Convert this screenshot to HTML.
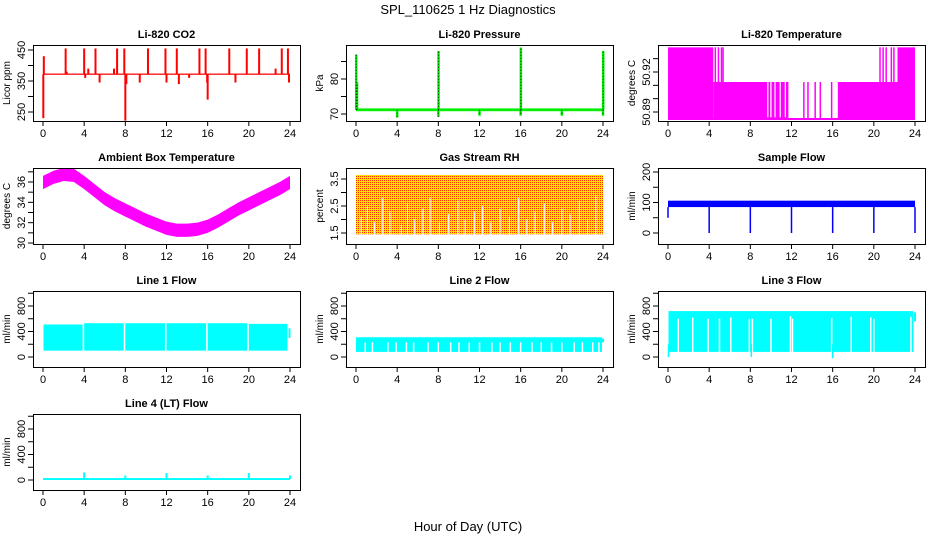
<!DOCTYPE html>
<html><head><meta charset="utf-8">
<style>
html,body{margin:0;padding:0;background:#fff;}
svg{display:block;font-family:"Liberation Sans",Arial,sans-serif;}
</style></head>
<body>
<svg id="chart" width="936" height="540" viewBox="0 0 936 540" xmlns="http://www.w3.org/2000/svg">
<defs>
<pattern id="rhpat" width="2" height="2" patternUnits="userSpaceOnUse">
<rect width="2" height="2" fill="#ffe000"/><rect width="1" height="1" fill="#ff3000"/>
</pattern>
</defs>
<text x="468" y="14" text-anchor="middle" font-size="13">SPL_110625  1 Hz Diagnostics</text>
<text x="468" y="531" text-anchor="middle" font-size="13">Hour of Day (UTC)</text>
</svg>
<script>
// ---------- data ----------
const xTicks = [0,4,8,12,16,20,24];
const co2Hours = [0.03,0.08,2.2,2.3,4.0,4.1,4.4,5.1,5.5,6.9,7.2,7.9,8.0,8.1,9.4,10.2,11.9,12.0,13.0,13.2,14.2,15.2,15.8,15.95,16.0,18.1,18.7,19.8,21.0,22.6,23.2,23.8,23.9];
const co2Values = [230,430,455,380,455,360,390,455,345,390,455,455,222,340,345,455,455,345,455,340,360,455,455,345,290,455,345,455,455,390,455,455,345];
const co2Base = [372];
const presHours = [0.02,0.1,4,8,8.02,12,16,16.02,20,24,24.02];
const presValues = [87,79,69,69.2,88,69.5,69.5,89,69.5,69.5,88];
const presBase = [71.2];
const tempSegStart = [0,4.4,16.5,22.3];
const tempSegEnd = [4.4,11.7,22.3,24];
const tempSegTop = [50.9385,50.9125,50.9125,50.9385];
const tempLow = [50.884];
const tempSpikeHours = [4.6,4.9,5.2,5.35,20.6,20.9,21.2,21.7,21.95,13.2,13.6,14.3,14.8,15.9,16.6];
const tempSpikeValues = [50.9385,50.9385,50.9385,50.9385,50.9385,50.9385,50.9385,50.9385,50.9385,50.9125,50.9125,50.9125,50.9125,50.9125,50.9125];
const tempGapHours = [9.7,10.0,10.4,10.9,11.4];
const ambHours = [0,1,2,3,4,5,6,7,8,9,10,11,12,13,14,15,16,17,18,19,20,21,22,23,24];
const ambValues = [36.0,36.5,36.8,36.7,36.0,35.2,34.4,33.8,33.3,32.8,32.3,31.9,31.5,31.3,31.3,31.4,31.7,32.2,32.8,33.4,33.9,34.4,34.9,35.4,36.0];
const rhHi = [3.65];
const rhLo = [1.45];
const rhGapHours = [0.5,1.1,1.8,2.6,3.3,4.4,5.0,5.7,6.5,7.2,8.1,9.0,9.9,10.6,11.5,12.3,13.1,14.0,14.9,15.8,16.6,17.4,18.3,19.1,20.0,20.8,21.7,22.5,23.3];
const rhGapTop = [2.1,2.5,1.9,2.8,2.3,1.8,2.6,2.0,2.4,2.8,1.9,2.2,2.7,2.0,2.3,2.5,1.9,2.4,2.1,2.8,2.0,2.3,2.6,1.9,2.4,2.2,2.7,2.0,2.9];
const sfLo = [85], sfHi = [106];
const sfDipHours = [0,4,8,12,16,20,24];
const sfDipValues = [50,0,0,0,0,0,0];
const l1Start = [0.05,4.0,8.0,12.0,16.0,20.0];
const l1End = [3.85,7.85,11.85,15.85,19.85,23.75];
const l1Top = [510,530,530,530,530,520];
const l1Bottom = [100];
const l2Top = [310], l2Bottom = [80], l2Solid = [230];
const l2GapHours = [0.9,1.6,3.1,3.9,4.9,5.6,7.0,8.0,9.2,10.0,11.0,12.0,13.2,14.0,15.0,16.0,17.1,18.0,19.0,20.0,21.2,22.0,23.0,23.6];
const l3Top = [720], l3Bottom = [80];
const l3GapHours = [1.0,2.4,3.9,5.0,6.1,7.9,8.2,10.0,11.9,12.1,15.9,17.8,19.7,20.0,23.6];
const l3GapTop = [600,620,600,600,620,600,600,600,640,600,610,630,620,600,630];
const l3DipHours = [0.05,8.1,16.0];
const l3DipValues = [0,0,-20];
const l4Base = [15];
const l4Hours = [4,8,12,16,20,24];
const l4Values = [120,70,110,70,110,70];

// ---------- helpers ----------
const svg = document.getElementById('chart');
const NS = 'http://www.w3.org/2000/svg';
function mk(tag, attrs, name, parent){
  const el = document.createElementNS(NS, tag);
  for (const k in attrs) el.setAttribute(k, attrs[k]);
  
  
  (parent||svg).appendChild(el);
  return el;
}
const colsX = [33,346,658], rowsY = [45,168,291,414];
const PW = 267, PH = 76;
function panel(col,row,title,ylab,ref,ticks,labels,slug){
  const L = colsX[col], T = rowsY[row];
  const g = mk('g',{},slug+'-panel');
  const x = h => L + 10 + h*247/24;
  const y = v => ref[1] + (v-ref[0])*(ref[3]-ref[1])/(ref[2]-ref[0]);
  mk('text',{x:L+PW/2,y:T-7,'text-anchor':'middle','font-size':11,'font-weight':'bold'},slug+'-title',g).textContent = title;
  const yl = mk('text',{x:0,y:0,'text-anchor':'middle','font-size':10,transform:`translate(${L-23},${T+PH/2}) rotate(-90)`},slug+'-y-axis-title',g);
  yl.textContent = ylab;
  xTicks.forEach(t=>{
    mk('line',{x1:x(t),x2:x(t),y1:T+PH,y2:T+PH+5,stroke:'#000'},slug+'-x-tick',g);
    mk('text',{x:x(t),y:T+PH+16,'text-anchor':'middle','font-size':11},slug+'-x-tick-label',g).textContent = t;
  });
  ticks.forEach(t=>{
    mk('line',{x1:L-5,x2:L,y1:y(t),y2:y(t),stroke:'#000'},slug+'-y-tick',g);
  });
  labels.forEach(t=>{
    mk('text',{x:0,y:0,'text-anchor':'middle','font-size':11,transform:`translate(${L-8},${y(t)}) rotate(-90)`},slug+'-y-tick-label',g).textContent = t;
  });
  const clip = 'clip-'+slug;
  const cp = mk('clipPath',{id:clip},slug+'-clip',g);
  mk('rect',{x:L,y:T,width:PW,height:PH},slug+'-clip-rect',cp);
  const data = mk('g',{'clip-path':`url(#${clip})`},slug+'-series',g);
  const box = ()=>mk('rect',{x:L+0.5,y:T+0.5,width:PW,height:PH,fill:'none',stroke:'#000'},slug+'-plot-box',g);
  return {x,y,data,box};
}
function vline(p,h,v1,v2,color,w,name,dash){
  const el = mk('line',{x1:p.x(h),x2:p.x(h),y1:p.y(v1),y2:p.y(v2),stroke:color,'stroke-width':w},name,p.data);
  if (dash) el.setAttribute('stroke-dasharray', dash);
}
function band(p,h1,h2,v1,v2,fill,name){
  const a=p.y(v1), b=p.y(v2);
  mk('rect',{x:p.x(h1),y:Math.min(a,b),width:p.x(h2)-p.x(h1),height:Math.abs(a-b),fill:fill},name,p.data);
}

// ---------- CO2 ----------
let p = panel(0,0,'Li-820 CO2','Licor ppm',[450,50,250,112],[250,300,350,400,450],[250,350,450],'co2');
band(p,0,24,co2Base[0]-2,co2Base[0]+2,'#ff0000','co2-baseline');
co2Hours.forEach((h,i)=>vline(p,h,co2Base[0],co2Values[i],'#ff0000',2,'co2-spike'));
p.box();
// ---------- Pressure ----------
p = panel(1,0,'Li-820 Pressure','kPa',[80,79,70,114],[70,75,80,85],[70,80],'pressure');
band(p,0,24,presBase[0]-0.4,presBase[0]+0.4,'#00ee00','pressure-baseline');
presHours.forEach((h,i)=>vline(p,h,presBase[0],presValues[i],'#00ee00',2.5,'pressure-spike'));
presHours.forEach((h,i)=>vline(p,h,presBase[0],presValues[i],'#000',0.8,'pressure-spike-dots','1,2'));
p.box();
// ---------- Temperature ----------
p = panel(2,0,'Li-820 Temperature','degrees C',[50.92,72,50.89,112],[50.89,50.90,50.91,50.92,50.93],['50.89','50.92'],'li820-temp');
band(p,0,24,tempLow[0],tempLow[0]+0.0015,'#ff00ff','temp-low-line');
tempSegStart.forEach((s,i)=>band(p,s,tempSegEnd[i],tempLow[0],tempSegTop[i],'#ff00ff','temp-segment'));
tempSpikeHours.forEach((h,i)=>vline(p,h,tempLow[0],tempSpikeValues[i],'#ff00ff',1.5,'temp-spike'));
tempGapHours.forEach(h=>vline(p,h,tempLow[0]+0.002,50.9125,'#fff',1.2,'temp-gap'));
p.box();
// ---------- Ambient ----------
p = panel(0,1,'Ambient Box Temperature','degrees C',[36,182,30,243],[30,31,32,33,34,35,36,37],[30,32,34,36],'ambient');
let pts = ambHours.map((h,i)=>`${p.x(h)},${p.y(ambValues[i]+0.6)}`).concat(ambHours.slice().reverse().map((h,i)=>{const j=ambHours.length-1-i;return `${p.x(h)},${p.y(ambValues[j]-0.7)}`;}));
mk('polygon',{points:pts.join(' '),fill:'#ff00ff'},'ambient-band',p.data);
p.box();
// ---------- RH ----------
p = panel(1,1,'Gas Stream RH','percent',[3.5,179,1.5,233],[1.5,2,2.5,3,3.5],['1.5','2.5','3.5'],'rh');
band(p,0,24,rhLo[0],rhHi[0],'url(#rhpat)','rh-band');
rhGapHours.forEach((h,i)=>vline(p,h,rhLo[0]-0.1,rhGapTop[i],'#fff',1,'rh-gap'));
p.box();
// ---------- Sample flow ----------
p = panel(2,1,'Sample Flow','ml/min',[200,172,0,233],[0,50,100,150,200],[0,100,200],'sample-flow');
band(p,0,24,sfLo[0],sfHi[0],'#0000ff','sample-flow-band');
sfDipHours.forEach((h,i)=>vline(p,h,sfLo[0],sfDipValues[i],'#0000ff',1.5,'sample-flow-dip'));
p.box();
// ---------- Line 1 ----------
p = panel(0,2,'Line 1 Flow','ml/min',[800,306,0,357],[0,200,400,600,800,1000],[0,400,800],'line1');
l1Start.forEach((s,i)=>band(p,s,l1End[i],l1Bottom[0],l1Top[i],'#00ffff','line1-segment'));
vline(p,23.95,300,450,'#00ffff',2,'line1-tail');
p.box();
// ---------- Line 2 ----------
p = panel(1,2,'Line 2 Flow','ml/min',[800,306,0,357],[0,200,400,600,800,1000],[0,400,800],'line2');
band(p,0,23.9,l2Bottom[0],l2Top[0],'#00ffff','line2-band');
l2GapHours.forEach(h=>vline(p,h,l2Bottom[0]-10,l2Solid[0],'#fff',1.5,'line2-gap'));
vline(p,24,230,290,'#00ffff',2,'line2-tail');
p.box();
// ---------- Line 3 ----------
p = panel(2,2,'Line 3 Flow','ml/min',[800,306,0,357],[0,200,400,600,800,1000],[0,400,800],'line3');
band(p,0.05,23.85,l3Bottom[0],l3Top[0],'#00ffff','line3-band');
l3GapHours.forEach((h,i)=>vline(p,h,l3Bottom[0]-10,l3GapTop[i],'#fff',1.5,'line3-gap'));
l3DipHours.forEach((h,i)=>vline(p,h,200,l3DipValues[i],'#00ffff',1.5,'line3-dip'));
vline(p,24,560,700,'#00ffff',2,'line3-tail');
p.box();
// ---------- Line 4 ----------
p = panel(0,3,'Line 4 (LT) Flow','ml/min',[800,429,0,480],[0,200,400,600,800,1000],[0,400,800],'line4');
band(p,0,24,l4Base[0]-15,l4Base[0]+15,'#00ffff','line4-baseline');
l4Hours.forEach((h,i)=>vline(p,h,l4Base[0],l4Values[i],'#00ffff',2,'line4-spike'));
p.box();
</script>
</body></html>
